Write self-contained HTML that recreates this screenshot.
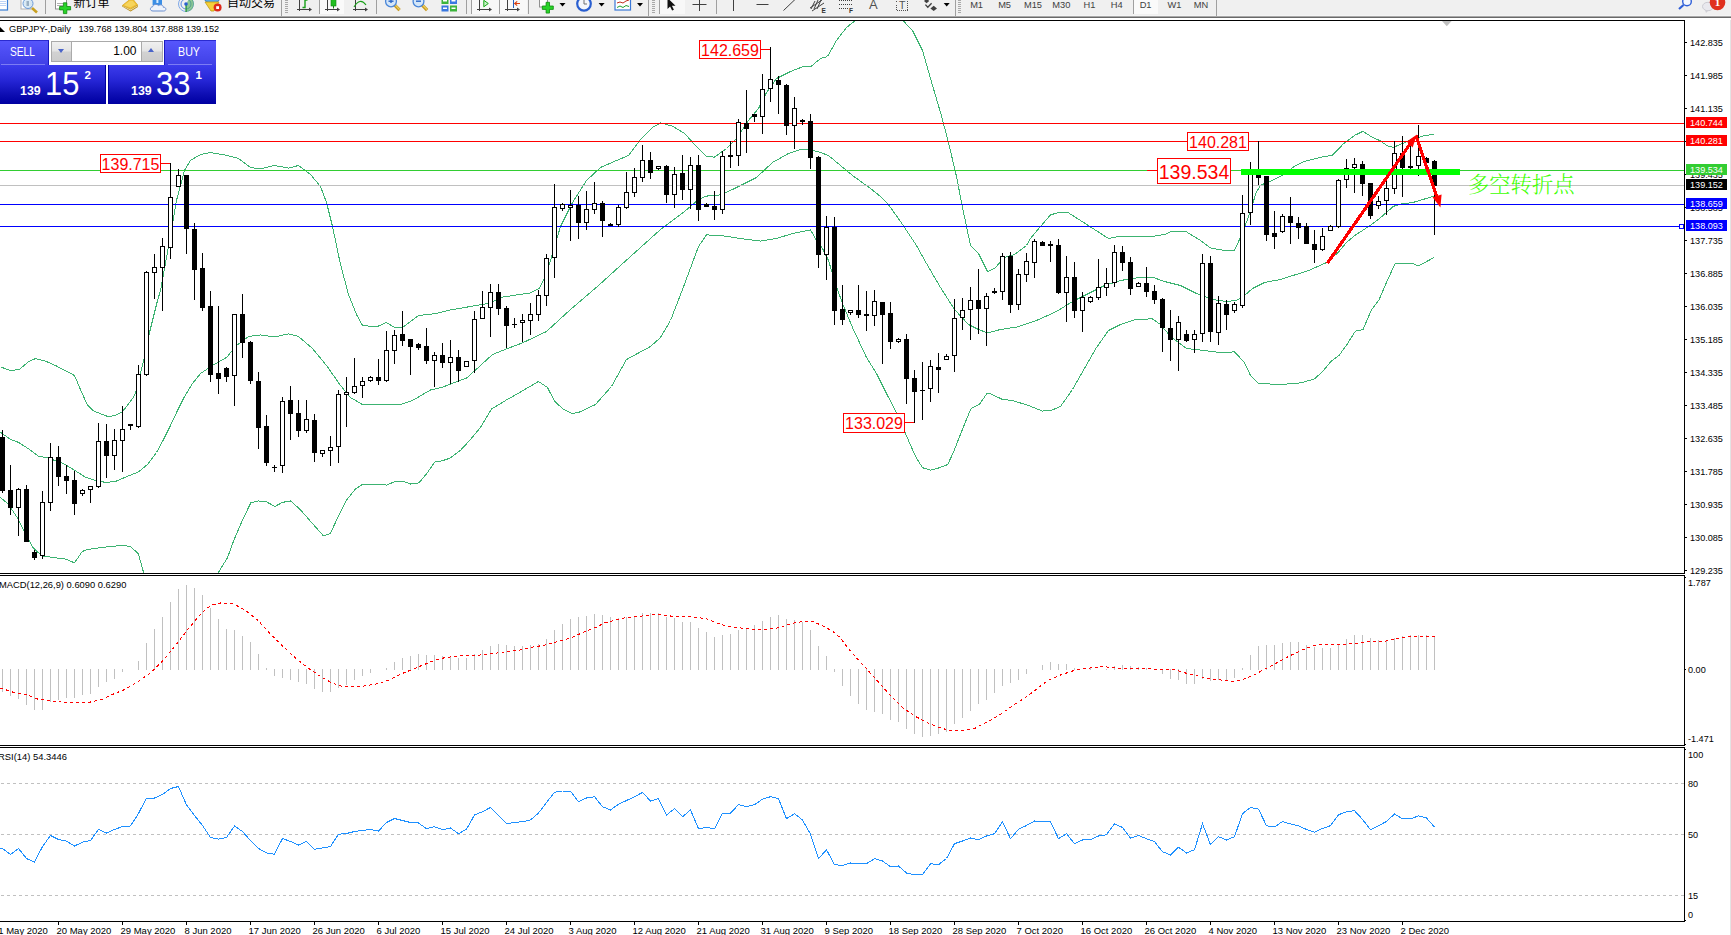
<!DOCTYPE html>
<html><head><meta charset="utf-8"><title>GBPJPY Daily</title><style>
html,body{margin:0;padding:0;background:#fff;}
body{width:1731px;height:935px;position:relative;overflow:hidden;font-family:"Liberation Sans","Noto Sans CJK SC",sans-serif;}
#panel{position:absolute;left:0;top:40px;width:216px;height:64px;color:#fff;}
#panel div{position:absolute;box-sizing:border-box;}
.btn{background:linear-gradient(#5656fc,#4040e6);height:25px;top:0;font-size:12.3px;line-height:25px;}
.sx{position:absolute;transform-origin:left center;white-space:nowrap;}
.big{top:25px;height:39px;background:linear-gradient(#3c3cec 0%,#2626d6 40%,#0c0cb0 80%,#0000a4 100%);}
.sm{font-weight:bold;font-size:12.5px;line-height:12.5px;top:45.4px;transform:scaleX(0.99);}
.lg{font-size:33.6px;line-height:33.6px;top:26.7px;transform:scaleX(0.92);}
.sup{font-weight:bold;font-size:11.5px;line-height:12px;}
</style></head><body>
<svg width="1731" height="935" viewBox="0 0 1731 935" style="position:absolute;left:0;top:0" font-family="'Liberation Sans', sans-serif">
<defs><clipPath id="cm"><rect x="0" y="21" width="1684" height="552"/></clipPath></defs>
<g clip-path="url(#cm)" fill="none" stroke="#3CB371" stroke-width="1" shape-rendering="crispEdges">
<polyline points="0.5,366.9 10.5,370.5 19.5,369.5 28.1,361.9 35.5,358.5 45.5,361.1 55.5,365.5 74.5,375.5 80.9,390.5 87.2,404.5 93.5,410.9 101.0,413.9 108.5,416.8 116.1,415.1 122.2,411.7 126.1,407.1 133.5,397.0 137.5,388.2 141.2,370.5 144.5,357.5 149.5,332.5 157.5,300.5 160.5,290.5 168.5,246.5 176.5,200.5 184.5,170.5 190.5,160.5 200.5,154.5 210.5,152.5 224.5,154.9 238.5,158.5 250.5,167.5 260.5,168.9 274.5,165.5 288.5,168.1 298.5,165.5 310.5,174.5 320.5,186.5 326.5,202.5 332.5,226.5 340.5,264.5 348.5,294.5 356.5,314.5 362.5,325.5 376.5,326.9 386.5,322.5 394.5,327.5 402.5,327.5 418.5,315.5 436.5,313.5 450.5,309.9 470.5,306.5 488.5,303.5 502.5,297.1 530.5,292.9 539.5,288.1 544.5,278.5 550.5,260.5 560.5,226.5 572.5,202.5 586.5,180.5 600.5,167.5 616.5,160.5 628.5,155.5 640.5,139.5 652.5,127.5 660.5,122.9 672.5,126.1 684.5,133.5 696.5,146.5 706.5,156.5 714.5,157.1 726.5,148.5 736.5,138.5 748.5,120.5 758.5,108.5 766.5,92.5 776.5,78.5 790.5,71.5 802.5,66.9 810.5,66.9 820.5,58.5 827.5,56.5 836.5,40.5 846.5,27.5 854.5,21.1 858.5,16.5"/>
<polyline points="900.5,16.5 903.5,21.1 912.5,30.5 922.5,50.5 930.5,78.5 940.5,112.5 948.5,142.5 956.5,176.5 962.5,207.5 970.5,245.5 978.5,253.5 987.5,271.5 994.5,268.5 1004.5,257.5 1014.5,254.5 1026.5,245.5 1030.5,238.5 1040.5,226.5 1050.5,214.9 1058.5,212.5 1068.5,212.9 1080.5,220.5 1094.5,229.5 1108.5,238.5 1120.5,236.1 1136.5,236.9 1152.5,236.5 1164.5,234.5 1170.5,231.9 1186.5,231.9 1200.5,240.5 1210.5,247.9 1226.5,250.9 1234.5,250.5 1241.5,235.2 1249.5,214.0 1256.1,192.9 1260.5,185.2 1270.5,181.3 1282.1,175.5 1293.5,166.9 1305.2,161.1 1320.5,157.3 1332.1,155.3 1343.5,143.8 1355.2,135.1 1362.9,131.3 1370.5,136.1 1380.2,140.9 1387.9,146.1 1393.5,147.3 1403.3,143.2 1412.9,139.0 1426.5,135.1 1434.1,134.8"/>
<polyline points="0.5,432.2 10.5,439.5 18.1,442.2 28.1,448.5 38.2,456.1 48.2,458.1 63.3,463.5 75.9,471.1 85.9,477.5 96.0,480.5 106.0,482.5 116.1,481.2 126.1,476.9 138.5,471.9 147.5,464.5 156.5,452.5 163.5,439.5 170.5,425.5 177.5,410.5 184.5,396.5 192.5,383.5 200.5,373.5 212.5,365.5 226.5,357.5 236.5,345.5 248.5,336.5 260.5,334.9 274.5,336.9 288.5,333.9 298.5,336.5 312.5,348.5 326.5,365.5 340.5,385.5 350.5,397.5 362.5,404.5 380.5,404.1 400.5,404.5 412.5,400.5 430.5,390.0 442.5,387.1 466.5,378.1 480.5,365.5 492.5,354.5 506.5,348.9 522.5,342.9 546.5,331.5 570.5,309.5 598.5,285.5 630.5,256.5 660.5,229.5 684.5,211.5 698.5,199.5 706.5,196.1 720.5,194.9 732.5,189.5 756.5,177.5 772.5,162.5 788.5,153.5 800.5,149.5 808.5,149.1 820.5,152.5 828.5,155.5 840.5,165.5 852.5,175.5 870.5,188.5 880.5,196.5 886.5,202.5 890.5,207.5 900.5,221.5 908.5,233.5 916.5,245.5 926.5,263.5 940.5,287.5 954.5,309.5 968.5,324.5 978.5,329.5 987.5,332.9 1000.5,329.5 1016.5,327.1 1036.5,320.5 1056.5,311.5 1072.5,301.5 1088.5,293.5 1104.5,285.5 1120.5,280.5 1136.5,277.9 1154.5,277.9 1164.5,281.5 1180.5,285.5 1196.5,293.5 1212.5,299.5 1226.5,301.5 1236.5,300.5 1244.5,295.5 1252.5,288.5 1264.5,282.5 1280.5,279.5 1300.5,273.1 1310.8,269.6 1326.2,262.7 1338.1,252.5 1346.5,242.5 1355.2,235.2 1368.7,226.5 1380.2,217.9 1393.5,206.3 1401.5,204.0 1412.9,202.5 1434.1,196.1"/>
<polyline points="0.5,497.5 8.0,503.8 18.1,518.9 25.5,534.0 33.2,547.8 42.0,556.1 50.5,557.1 65.8,559.1 74.5,562.9 82.2,551.5 87.2,549.5 106.0,547.0 123.5,545.3 131.2,547.0 138.5,554.1 144.0,574.0"/>
<polyline points="217.8,573.5 227.5,557.7 233.5,541.1 242.5,520.1 250.8,502.8 258.3,500.9 266.5,501.8 274.8,506.5 282.4,502.4 290.5,500.9 299.5,508.8 311.5,522.4 323.5,535.9 330.5,533.5 337.2,518.5 346.2,500.5 355.2,489.3 362.7,484.1 382.2,484.1 386.7,485.1 394.3,481.8 404.8,481.8 410.8,484.1 419.0,482.9 427.3,472.8 434.8,462.0 442.3,460.8 449.8,458.2 460.5,450.3 470.5,439.5 480.5,427.5 491.5,409.1 505.5,400.5 520.5,392.0 538.5,381.5 547.5,387.5 554.5,401.1 563.5,409.5 572.5,413.5 578.5,412.5 595.5,404.5 611.5,386.5 626.5,359.5 650.5,346.5 660.5,337.5 670.5,320.5 682.5,289.5 698.5,246.5 706.5,234.9 720.5,235.5 740.5,238.5 760.5,241.1 776.5,238.5 792.5,233.5 810.5,229.9 816.5,240.5 822.5,248.5 828.5,260.5 836.5,286.5 842.5,303.5 852.5,327.5 866.5,357.5 876.5,373.5 886.5,393.5 896.3,412.5 905.2,432.9 910.8,445.7 916.1,457.5 922.5,467.7 930.5,470.1 939.6,467.7 947.7,464.5 953.5,452.2 961.0,432.9 967.5,416.9 971.2,408.3 979.2,404.5 986.7,393.9 991.0,393.9 1002.5,399.5 1012.5,400.5 1028.5,405.5 1042.5,411.1 1052.5,409.9 1060.5,406.5 1072.5,389.5 1084.5,368.5 1096.5,347.5 1108.5,330.5 1120.5,324.5 1136.5,319.3 1152.5,318.9 1160.5,324.5 1170.5,336.5 1186.5,348.5 1200.5,350.1 1220.5,352.5 1234.5,351.9 1244.5,362.5 1250.5,375.5 1258.5,383.5 1280.5,384.5 1300.5,382.9 1314.2,379.1 1322.7,371.4 1331.3,361.1 1339.0,355.5 1346.7,344.9 1355.3,331.2 1363.0,329.5 1371.5,309.8 1379.2,299.5 1386.1,283.3 1395.1,263.6 1412.6,263.6 1418.5,265.8 1434.0,257.6"/>
</g>
<rect x="0" y="123" width="1684" height="1" fill="#ff0000"/>
<rect x="0" y="141" width="1684" height="1" fill="#ff0000"/>
<rect x="0" y="170" width="1684" height="1" fill="#32cd32"/>
<rect x="0" y="185" width="1684" height="1" fill="#c0c0c0"/>
<rect x="0" y="204" width="1684" height="1" fill="#0000ff"/>
<rect x="0" y="226" width="1684" height="1" fill="#0000ff"/>
<g shape-rendering="crispEdges" clip-path="url(#cm)">
<rect x="2" y="430" width="1" height="63" fill="#000"/>
<rect x="0" y="437" width="5" height="54" fill="#000"/>
<rect x="10" y="465" width="1" height="50" fill="#000"/>
<rect x="8" y="490" width="5" height="18" fill="#000"/>
<rect x="18" y="488" width="1" height="48" fill="#000"/>
<rect x="16" y="489" width="5" height="19" fill="#000"/>
<rect x="17" y="490" width="3" height="17" fill="#fff"/>
<rect x="26" y="485" width="1" height="57" fill="#000"/>
<rect x="24" y="489" width="5" height="53" fill="#000"/>
<rect x="34" y="550" width="1" height="10" fill="#000"/>
<rect x="32" y="552" width="5" height="6" fill="#000"/>
<rect x="42" y="491" width="1" height="68" fill="#000"/>
<rect x="40" y="502" width="5" height="54" fill="#000"/>
<rect x="41" y="503" width="3" height="52" fill="#fff"/>
<rect x="50" y="443" width="1" height="68" fill="#000"/>
<rect x="48" y="457" width="5" height="46" fill="#000"/>
<rect x="49" y="458" width="3" height="44" fill="#fff"/>
<rect x="58" y="446" width="1" height="40" fill="#000"/>
<rect x="56" y="457" width="5" height="20" fill="#000"/>
<rect x="66" y="465" width="1" height="29" fill="#000"/>
<rect x="64" y="476" width="5" height="5" fill="#000"/>
<rect x="74" y="471" width="1" height="44" fill="#000"/>
<rect x="72" y="480" width="5" height="24" fill="#000"/>
<rect x="82" y="489" width="1" height="7" fill="#000"/>
<rect x="80" y="490" width="5" height="4" fill="#000"/>
<rect x="81" y="491" width="3" height="2" fill="#fff"/>
<rect x="90" y="486" width="1" height="17" fill="#000"/>
<rect x="88" y="486" width="5" height="4" fill="#000"/>
<rect x="89" y="487" width="3" height="2" fill="#fff"/>
<rect x="98" y="423" width="1" height="65" fill="#000"/>
<rect x="96" y="441" width="5" height="46" fill="#000"/>
<rect x="97" y="442" width="3" height="44" fill="#fff"/>
<rect x="106" y="424" width="1" height="54" fill="#000"/>
<rect x="104" y="441" width="5" height="15" fill="#000"/>
<rect x="114" y="429" width="1" height="41" fill="#000"/>
<rect x="112" y="440" width="5" height="16" fill="#000"/>
<rect x="113" y="441" width="3" height="14" fill="#fff"/>
<rect x="122" y="406" width="1" height="66" fill="#000"/>
<rect x="120" y="429" width="5" height="12" fill="#000"/>
<rect x="121" y="430" width="3" height="10" fill="#fff"/>
<rect x="130" y="424" width="1" height="6" fill="#000"/>
<rect x="128" y="424" width="5" height="2" fill="#000"/>
<rect x="138" y="365" width="1" height="63" fill="#000"/>
<rect x="136" y="374" width="5" height="53" fill="#000"/>
<rect x="137" y="375" width="3" height="51" fill="#fff"/>
<rect x="146" y="271" width="1" height="105" fill="#000"/>
<rect x="144" y="272" width="5" height="103" fill="#000"/>
<rect x="145" y="273" width="3" height="101" fill="#fff"/>
<rect x="154" y="254" width="1" height="45" fill="#000"/>
<rect x="152" y="267" width="5" height="6" fill="#000"/>
<rect x="153" y="268" width="3" height="4" fill="#fff"/>
<rect x="162" y="238" width="1" height="73" fill="#000"/>
<rect x="160" y="246" width="5" height="22" fill="#000"/>
<rect x="161" y="247" width="3" height="20" fill="#fff"/>
<rect x="170" y="163" width="1" height="96" fill="#000"/>
<rect x="168" y="197" width="5" height="51" fill="#000"/>
<rect x="169" y="198" width="3" height="49" fill="#fff"/>
<rect x="178" y="169" width="1" height="18" fill="#000"/>
<rect x="176" y="175" width="5" height="12" fill="#000"/>
<rect x="177" y="176" width="3" height="10" fill="#fff"/>
<rect x="186" y="175" width="1" height="79" fill="#000"/>
<rect x="184" y="175" width="5" height="54" fill="#000"/>
<rect x="194" y="223" width="1" height="77" fill="#000"/>
<rect x="192" y="229" width="5" height="41" fill="#000"/>
<rect x="202" y="253" width="1" height="58" fill="#000"/>
<rect x="200" y="268" width="5" height="40" fill="#000"/>
<rect x="210" y="291" width="1" height="91" fill="#000"/>
<rect x="208" y="306" width="5" height="69" fill="#000"/>
<rect x="218" y="306" width="1" height="88" fill="#000"/>
<rect x="216" y="373" width="5" height="6" fill="#000"/>
<rect x="226" y="367" width="1" height="15" fill="#000"/>
<rect x="224" y="368" width="5" height="9" fill="#000"/>
<rect x="234" y="314" width="1" height="92" fill="#000"/>
<rect x="232" y="314" width="5" height="62" fill="#000"/>
<rect x="233" y="315" width="3" height="60" fill="#fff"/>
<rect x="242" y="294" width="1" height="64" fill="#000"/>
<rect x="240" y="314" width="5" height="29" fill="#000"/>
<rect x="250" y="341" width="1" height="43" fill="#000"/>
<rect x="248" y="342" width="5" height="39" fill="#000"/>
<rect x="258" y="372" width="1" height="77" fill="#000"/>
<rect x="256" y="381" width="5" height="47" fill="#000"/>
<rect x="266" y="415" width="1" height="51" fill="#000"/>
<rect x="264" y="426" width="5" height="37" fill="#000"/>
<rect x="274" y="465" width="1" height="7" fill="#000"/>
<rect x="272" y="467" width="5" height="1" fill="#000"/>
<rect x="282" y="397" width="1" height="76" fill="#000"/>
<rect x="280" y="401" width="5" height="65" fill="#000"/>
<rect x="281" y="402" width="3" height="63" fill="#fff"/>
<rect x="290" y="386" width="1" height="54" fill="#000"/>
<rect x="288" y="400" width="5" height="14" fill="#000"/>
<rect x="298" y="400" width="1" height="37" fill="#000"/>
<rect x="296" y="413" width="5" height="18" fill="#000"/>
<rect x="306" y="400" width="1" height="33" fill="#000"/>
<rect x="304" y="419" width="5" height="12" fill="#000"/>
<rect x="305" y="420" width="3" height="10" fill="#fff"/>
<rect x="314" y="414" width="1" height="48" fill="#000"/>
<rect x="312" y="420" width="5" height="33" fill="#000"/>
<rect x="322" y="450" width="1" height="7" fill="#000"/>
<rect x="320" y="450" width="5" height="4" fill="#000"/>
<rect x="321" y="451" width="3" height="2" fill="#fff"/>
<rect x="330" y="436" width="1" height="30" fill="#000"/>
<rect x="328" y="447" width="5" height="4" fill="#000"/>
<rect x="329" y="448" width="3" height="2" fill="#fff"/>
<rect x="338" y="390" width="1" height="73" fill="#000"/>
<rect x="336" y="394" width="5" height="53" fill="#000"/>
<rect x="337" y="395" width="3" height="51" fill="#fff"/>
<rect x="346" y="377" width="1" height="50" fill="#000"/>
<rect x="344" y="392" width="5" height="3" fill="#000"/>
<rect x="345" y="393" width="3" height="1" fill="#fff"/>
<rect x="354" y="358" width="1" height="36" fill="#000"/>
<rect x="352" y="386" width="5" height="7" fill="#000"/>
<rect x="353" y="387" width="3" height="5" fill="#fff"/>
<rect x="362" y="377" width="1" height="21" fill="#000"/>
<rect x="360" y="381" width="5" height="5" fill="#000"/>
<rect x="361" y="382" width="3" height="3" fill="#fff"/>
<rect x="370" y="376" width="1" height="6" fill="#000"/>
<rect x="368" y="377" width="5" height="4" fill="#000"/>
<rect x="369" y="378" width="3" height="2" fill="#fff"/>
<rect x="378" y="359" width="1" height="26" fill="#000"/>
<rect x="376" y="377" width="5" height="4" fill="#000"/>
<rect x="386" y="331" width="1" height="51" fill="#000"/>
<rect x="384" y="350" width="5" height="31" fill="#000"/>
<rect x="385" y="351" width="3" height="29" fill="#fff"/>
<rect x="394" y="330" width="1" height="34" fill="#000"/>
<rect x="392" y="335" width="5" height="16" fill="#000"/>
<rect x="393" y="336" width="3" height="14" fill="#fff"/>
<rect x="402" y="311" width="1" height="35" fill="#000"/>
<rect x="400" y="334" width="5" height="7" fill="#000"/>
<rect x="410" y="339" width="1" height="36" fill="#000"/>
<rect x="408" y="339" width="5" height="8" fill="#000"/>
<rect x="418" y="343" width="1" height="7" fill="#000"/>
<rect x="416" y="344" width="5" height="4" fill="#000"/>
<rect x="426" y="328" width="1" height="36" fill="#000"/>
<rect x="424" y="346" width="5" height="15" fill="#000"/>
<rect x="434" y="352" width="1" height="35" fill="#000"/>
<rect x="432" y="355" width="5" height="6" fill="#000"/>
<rect x="433" y="356" width="3" height="4" fill="#fff"/>
<rect x="442" y="343" width="1" height="25" fill="#000"/>
<rect x="440" y="355" width="5" height="8" fill="#000"/>
<rect x="450" y="340" width="1" height="44" fill="#000"/>
<rect x="448" y="357" width="5" height="6" fill="#000"/>
<rect x="449" y="358" width="3" height="4" fill="#fff"/>
<rect x="458" y="350" width="1" height="32" fill="#000"/>
<rect x="456" y="357" width="5" height="14" fill="#000"/>
<rect x="466" y="361" width="1" height="6" fill="#000"/>
<rect x="464" y="361" width="5" height="6" fill="#000"/>
<rect x="465" y="362" width="3" height="4" fill="#fff"/>
<rect x="474" y="311" width="1" height="62" fill="#000"/>
<rect x="472" y="319" width="5" height="42" fill="#000"/>
<rect x="473" y="320" width="3" height="40" fill="#fff"/>
<rect x="482" y="291" width="1" height="28" fill="#000"/>
<rect x="480" y="307" width="5" height="12" fill="#000"/>
<rect x="481" y="308" width="3" height="10" fill="#fff"/>
<rect x="490" y="284" width="1" height="53" fill="#000"/>
<rect x="488" y="292" width="5" height="16" fill="#000"/>
<rect x="489" y="293" width="3" height="14" fill="#fff"/>
<rect x="498" y="284" width="1" height="31" fill="#000"/>
<rect x="496" y="292" width="5" height="17" fill="#000"/>
<rect x="506" y="306" width="1" height="42" fill="#000"/>
<rect x="504" y="308" width="5" height="18" fill="#000"/>
<rect x="514" y="318" width="1" height="10" fill="#000"/>
<rect x="512" y="324" width="5" height="1" fill="#000"/>
<rect x="522" y="314" width="1" height="28" fill="#000"/>
<rect x="520" y="320" width="5" height="3" fill="#000"/>
<rect x="521" y="321" width="3" height="1" fill="#fff"/>
<rect x="530" y="303" width="1" height="32" fill="#000"/>
<rect x="528" y="314" width="5" height="7" fill="#000"/>
<rect x="529" y="315" width="3" height="5" fill="#fff"/>
<rect x="538" y="290" width="1" height="31" fill="#000"/>
<rect x="536" y="295" width="5" height="20" fill="#000"/>
<rect x="537" y="296" width="3" height="18" fill="#fff"/>
<rect x="546" y="254" width="1" height="52" fill="#000"/>
<rect x="544" y="258" width="5" height="38" fill="#000"/>
<rect x="545" y="259" width="3" height="36" fill="#fff"/>
<rect x="554" y="184" width="1" height="94" fill="#000"/>
<rect x="552" y="207" width="5" height="51" fill="#000"/>
<rect x="553" y="208" width="3" height="49" fill="#fff"/>
<rect x="562" y="203" width="1" height="8" fill="#000"/>
<rect x="560" y="204" width="5" height="5" fill="#000"/>
<rect x="561" y="205" width="3" height="3" fill="#fff"/>
<rect x="570" y="190" width="1" height="51" fill="#000"/>
<rect x="568" y="205" width="5" height="3" fill="#000"/>
<rect x="569" y="206" width="3" height="1" fill="#fff"/>
<rect x="578" y="196" width="1" height="43" fill="#000"/>
<rect x="576" y="205" width="5" height="18" fill="#000"/>
<rect x="586" y="191" width="1" height="39" fill="#000"/>
<rect x="584" y="209" width="5" height="14" fill="#000"/>
<rect x="585" y="210" width="3" height="12" fill="#fff"/>
<rect x="594" y="182" width="1" height="32" fill="#000"/>
<rect x="592" y="203" width="5" height="7" fill="#000"/>
<rect x="593" y="204" width="3" height="5" fill="#fff"/>
<rect x="602" y="201" width="1" height="36" fill="#000"/>
<rect x="600" y="203" width="5" height="18" fill="#000"/>
<rect x="610" y="223" width="1" height="3" fill="#000"/>
<rect x="608" y="224" width="5" height="2" fill="#000"/>
<rect x="618" y="205" width="1" height="22" fill="#000"/>
<rect x="616" y="207" width="5" height="18" fill="#000"/>
<rect x="617" y="208" width="3" height="16" fill="#fff"/>
<rect x="626" y="172" width="1" height="37" fill="#000"/>
<rect x="624" y="192" width="5" height="16" fill="#000"/>
<rect x="625" y="193" width="3" height="14" fill="#fff"/>
<rect x="634" y="168" width="1" height="29" fill="#000"/>
<rect x="632" y="177" width="5" height="16" fill="#000"/>
<rect x="633" y="178" width="3" height="14" fill="#fff"/>
<rect x="642" y="145" width="1" height="37" fill="#000"/>
<rect x="640" y="160" width="5" height="18" fill="#000"/>
<rect x="641" y="161" width="3" height="16" fill="#fff"/>
<rect x="650" y="152" width="1" height="27" fill="#000"/>
<rect x="648" y="160" width="5" height="13" fill="#000"/>
<rect x="658" y="166" width="1" height="4" fill="#000"/>
<rect x="656" y="166" width="5" height="3" fill="#000"/>
<rect x="657" y="167" width="3" height="1" fill="#fff"/>
<rect x="666" y="165" width="1" height="38" fill="#000"/>
<rect x="664" y="166" width="5" height="29" fill="#000"/>
<rect x="674" y="167" width="1" height="41" fill="#000"/>
<rect x="672" y="174" width="5" height="21" fill="#000"/>
<rect x="673" y="175" width="3" height="19" fill="#fff"/>
<rect x="682" y="155" width="1" height="45" fill="#000"/>
<rect x="680" y="173" width="5" height="17" fill="#000"/>
<rect x="690" y="157" width="1" height="52" fill="#000"/>
<rect x="688" y="165" width="5" height="25" fill="#000"/>
<rect x="689" y="166" width="3" height="23" fill="#fff"/>
<rect x="698" y="155" width="1" height="66" fill="#000"/>
<rect x="696" y="165" width="5" height="45" fill="#000"/>
<rect x="706" y="203" width="1" height="4" fill="#000"/>
<rect x="704" y="204" width="5" height="3" fill="#000"/>
<rect x="714" y="191" width="1" height="29" fill="#000"/>
<rect x="712" y="206" width="5" height="4" fill="#000"/>
<rect x="722" y="151" width="1" height="63" fill="#000"/>
<rect x="720" y="156" width="5" height="54" fill="#000"/>
<rect x="721" y="157" width="3" height="52" fill="#fff"/>
<rect x="730" y="141" width="1" height="27" fill="#000"/>
<rect x="728" y="155" width="5" height="2" fill="#000"/>
<rect x="738" y="119" width="1" height="47" fill="#000"/>
<rect x="736" y="122" width="5" height="34" fill="#000"/>
<rect x="737" y="123" width="3" height="32" fill="#fff"/>
<rect x="746" y="90" width="1" height="63" fill="#000"/>
<rect x="744" y="123" width="5" height="6" fill="#000"/>
<rect x="754" y="114" width="1" height="8" fill="#000"/>
<rect x="752" y="114" width="5" height="3" fill="#000"/>
<rect x="762" y="74" width="1" height="60" fill="#000"/>
<rect x="760" y="89" width="5" height="28" fill="#000"/>
<rect x="761" y="90" width="3" height="26" fill="#fff"/>
<rect x="770" y="47" width="1" height="55" fill="#000"/>
<rect x="768" y="79" width="5" height="10" fill="#000"/>
<rect x="769" y="80" width="3" height="8" fill="#fff"/>
<rect x="778" y="76" width="1" height="38" fill="#000"/>
<rect x="776" y="80" width="5" height="5" fill="#000"/>
<rect x="786" y="84" width="1" height="51" fill="#000"/>
<rect x="784" y="85" width="5" height="41" fill="#000"/>
<rect x="794" y="97" width="1" height="52" fill="#000"/>
<rect x="792" y="108" width="5" height="18" fill="#000"/>
<rect x="793" y="109" width="3" height="16" fill="#fff"/>
<rect x="802" y="119" width="1" height="6" fill="#000"/>
<rect x="800" y="120" width="5" height="2" fill="#000"/>
<rect x="810" y="114" width="1" height="55" fill="#000"/>
<rect x="808" y="121" width="5" height="37" fill="#000"/>
<rect x="818" y="156" width="1" height="112" fill="#000"/>
<rect x="816" y="157" width="5" height="98" fill="#000"/>
<rect x="826" y="216" width="1" height="64" fill="#000"/>
<rect x="824" y="227" width="5" height="28" fill="#000"/>
<rect x="825" y="228" width="3" height="26" fill="#fff"/>
<rect x="834" y="217" width="1" height="108" fill="#000"/>
<rect x="832" y="227" width="5" height="84" fill="#000"/>
<rect x="842" y="285" width="1" height="40" fill="#000"/>
<rect x="840" y="309" width="5" height="11" fill="#000"/>
<rect x="850" y="310" width="1" height="5" fill="#000"/>
<rect x="848" y="310" width="5" height="3" fill="#000"/>
<rect x="849" y="311" width="3" height="1" fill="#fff"/>
<rect x="858" y="285" width="1" height="33" fill="#000"/>
<rect x="856" y="310" width="5" height="5" fill="#000"/>
<rect x="866" y="291" width="1" height="40" fill="#000"/>
<rect x="864" y="314" width="5" height="2" fill="#000"/>
<rect x="874" y="290" width="1" height="36" fill="#000"/>
<rect x="872" y="301" width="5" height="15" fill="#000"/>
<rect x="873" y="302" width="3" height="13" fill="#fff"/>
<rect x="882" y="302" width="1" height="62" fill="#000"/>
<rect x="880" y="302" width="5" height="13" fill="#000"/>
<rect x="890" y="302" width="1" height="47" fill="#000"/>
<rect x="888" y="313" width="5" height="29" fill="#000"/>
<rect x="898" y="338" width="1" height="5" fill="#000"/>
<rect x="896" y="339" width="5" height="3" fill="#000"/>
<rect x="897" y="340" width="3" height="1" fill="#fff"/>
<rect x="906" y="334" width="1" height="70" fill="#000"/>
<rect x="904" y="339" width="5" height="40" fill="#000"/>
<rect x="914" y="370" width="1" height="53" fill="#000"/>
<rect x="912" y="378" width="5" height="14" fill="#000"/>
<rect x="922" y="362" width="1" height="58" fill="#000"/>
<rect x="920" y="390" width="5" height="1" fill="#000"/>
<rect x="930" y="360" width="1" height="42" fill="#000"/>
<rect x="928" y="366" width="5" height="23" fill="#000"/>
<rect x="929" y="367" width="3" height="21" fill="#fff"/>
<rect x="938" y="353" width="1" height="40" fill="#000"/>
<rect x="936" y="367" width="5" height="3" fill="#000"/>
<rect x="946" y="354" width="1" height="6" fill="#000"/>
<rect x="944" y="356" width="5" height="4" fill="#000"/>
<rect x="945" y="357" width="3" height="2" fill="#fff"/>
<rect x="954" y="299" width="1" height="73" fill="#000"/>
<rect x="952" y="318" width="5" height="38" fill="#000"/>
<rect x="953" y="319" width="3" height="36" fill="#fff"/>
<rect x="962" y="298" width="1" height="32" fill="#000"/>
<rect x="960" y="310" width="5" height="8" fill="#000"/>
<rect x="961" y="311" width="3" height="6" fill="#fff"/>
<rect x="970" y="287" width="1" height="53" fill="#000"/>
<rect x="968" y="300" width="5" height="10" fill="#000"/>
<rect x="969" y="301" width="3" height="8" fill="#fff"/>
<rect x="978" y="269" width="1" height="65" fill="#000"/>
<rect x="976" y="300" width="5" height="9" fill="#000"/>
<rect x="986" y="293" width="1" height="53" fill="#000"/>
<rect x="984" y="296" width="5" height="13" fill="#000"/>
<rect x="985" y="297" width="3" height="11" fill="#fff"/>
<rect x="994" y="288" width="1" height="6" fill="#000"/>
<rect x="992" y="291" width="5" height="2" fill="#000"/>
<rect x="1002" y="253" width="1" height="47" fill="#000"/>
<rect x="1000" y="256" width="5" height="36" fill="#000"/>
<rect x="1001" y="257" width="3" height="34" fill="#fff"/>
<rect x="1010" y="252" width="1" height="61" fill="#000"/>
<rect x="1008" y="256" width="5" height="49" fill="#000"/>
<rect x="1018" y="269" width="1" height="41" fill="#000"/>
<rect x="1016" y="274" width="5" height="31" fill="#000"/>
<rect x="1017" y="275" width="3" height="29" fill="#fff"/>
<rect x="1026" y="253" width="1" height="29" fill="#000"/>
<rect x="1024" y="261" width="5" height="14" fill="#000"/>
<rect x="1025" y="262" width="3" height="12" fill="#fff"/>
<rect x="1034" y="239" width="1" height="39" fill="#000"/>
<rect x="1032" y="241" width="5" height="22" fill="#000"/>
<rect x="1033" y="242" width="3" height="20" fill="#fff"/>
<rect x="1042" y="241" width="1" height="5" fill="#000"/>
<rect x="1040" y="242" width="5" height="4" fill="#000"/>
<rect x="1050" y="241" width="1" height="21" fill="#000"/>
<rect x="1048" y="244" width="5" height="2" fill="#000"/>
<rect x="1058" y="239" width="1" height="55" fill="#000"/>
<rect x="1056" y="245" width="5" height="48" fill="#000"/>
<rect x="1066" y="256" width="1" height="66" fill="#000"/>
<rect x="1064" y="277" width="5" height="16" fill="#000"/>
<rect x="1065" y="278" width="3" height="14" fill="#fff"/>
<rect x="1074" y="262" width="1" height="56" fill="#000"/>
<rect x="1072" y="277" width="5" height="34" fill="#000"/>
<rect x="1082" y="292" width="1" height="40" fill="#000"/>
<rect x="1080" y="297" width="5" height="14" fill="#000"/>
<rect x="1081" y="298" width="3" height="12" fill="#fff"/>
<rect x="1090" y="296" width="1" height="7" fill="#000"/>
<rect x="1088" y="297" width="5" height="5" fill="#000"/>
<rect x="1089" y="298" width="3" height="3" fill="#fff"/>
<rect x="1098" y="259" width="1" height="41" fill="#000"/>
<rect x="1096" y="287" width="5" height="11" fill="#000"/>
<rect x="1097" y="288" width="3" height="9" fill="#fff"/>
<rect x="1106" y="268" width="1" height="28" fill="#000"/>
<rect x="1104" y="283" width="5" height="5" fill="#000"/>
<rect x="1105" y="284" width="3" height="3" fill="#fff"/>
<rect x="1114" y="245" width="1" height="42" fill="#000"/>
<rect x="1112" y="252" width="5" height="31" fill="#000"/>
<rect x="1113" y="253" width="3" height="29" fill="#fff"/>
<rect x="1122" y="246" width="1" height="25" fill="#000"/>
<rect x="1120" y="252" width="5" height="11" fill="#000"/>
<rect x="1130" y="257" width="1" height="38" fill="#000"/>
<rect x="1128" y="262" width="5" height="27" fill="#000"/>
<rect x="1138" y="282" width="1" height="5" fill="#000"/>
<rect x="1136" y="283" width="5" height="4" fill="#000"/>
<rect x="1137" y="284" width="3" height="2" fill="#fff"/>
<rect x="1146" y="267" width="1" height="30" fill="#000"/>
<rect x="1144" y="283" width="5" height="9" fill="#000"/>
<rect x="1154" y="285" width="1" height="19" fill="#000"/>
<rect x="1152" y="291" width="5" height="9" fill="#000"/>
<rect x="1162" y="298" width="1" height="54" fill="#000"/>
<rect x="1160" y="299" width="5" height="29" fill="#000"/>
<rect x="1170" y="310" width="1" height="51" fill="#000"/>
<rect x="1168" y="328" width="5" height="12" fill="#000"/>
<rect x="1178" y="316" width="1" height="55" fill="#000"/>
<rect x="1176" y="322" width="5" height="18" fill="#000"/>
<rect x="1177" y="323" width="3" height="16" fill="#fff"/>
<rect x="1186" y="330" width="1" height="12" fill="#000"/>
<rect x="1184" y="334" width="5" height="7" fill="#000"/>
<rect x="1194" y="330" width="1" height="23" fill="#000"/>
<rect x="1192" y="334" width="5" height="6" fill="#000"/>
<rect x="1193" y="335" width="3" height="4" fill="#fff"/>
<rect x="1202" y="254" width="1" height="88" fill="#000"/>
<rect x="1200" y="263" width="5" height="71" fill="#000"/>
<rect x="1201" y="264" width="3" height="69" fill="#fff"/>
<rect x="1210" y="256" width="1" height="86" fill="#000"/>
<rect x="1208" y="263" width="5" height="69" fill="#000"/>
<rect x="1218" y="296" width="1" height="49" fill="#000"/>
<rect x="1216" y="303" width="5" height="30" fill="#000"/>
<rect x="1217" y="304" width="3" height="28" fill="#fff"/>
<rect x="1226" y="300" width="1" height="30" fill="#000"/>
<rect x="1224" y="304" width="5" height="11" fill="#000"/>
<rect x="1234" y="302" width="1" height="11" fill="#000"/>
<rect x="1232" y="304" width="5" height="7" fill="#000"/>
<rect x="1233" y="305" width="3" height="5" fill="#fff"/>
<rect x="1242" y="195" width="1" height="113" fill="#000"/>
<rect x="1240" y="213" width="5" height="93" fill="#000"/>
<rect x="1241" y="214" width="3" height="91" fill="#fff"/>
<rect x="1250" y="162" width="1" height="63" fill="#000"/>
<rect x="1248" y="174" width="5" height="39" fill="#000"/>
<rect x="1249" y="175" width="3" height="37" fill="#fff"/>
<rect x="1258" y="141" width="1" height="44" fill="#000"/>
<rect x="1256" y="175" width="5" height="3" fill="#000"/>
<rect x="1266" y="176" width="1" height="65" fill="#000"/>
<rect x="1264" y="176" width="5" height="59" fill="#000"/>
<rect x="1274" y="211" width="1" height="38" fill="#000"/>
<rect x="1272" y="233" width="5" height="4" fill="#000"/>
<rect x="1282" y="214" width="1" height="19" fill="#000"/>
<rect x="1280" y="216" width="5" height="16" fill="#000"/>
<rect x="1281" y="217" width="3" height="14" fill="#fff"/>
<rect x="1290" y="197" width="1" height="47" fill="#000"/>
<rect x="1288" y="216" width="5" height="7" fill="#000"/>
<rect x="1298" y="217" width="1" height="22" fill="#000"/>
<rect x="1296" y="223" width="5" height="5" fill="#000"/>
<rect x="1306" y="223" width="1" height="21" fill="#000"/>
<rect x="1304" y="226" width="5" height="18" fill="#000"/>
<rect x="1314" y="230" width="1" height="33" fill="#000"/>
<rect x="1312" y="244" width="5" height="6" fill="#000"/>
<rect x="1322" y="228" width="1" height="23" fill="#000"/>
<rect x="1320" y="236" width="5" height="14" fill="#000"/>
<rect x="1321" y="237" width="3" height="12" fill="#fff"/>
<rect x="1330" y="225" width="1" height="6" fill="#000"/>
<rect x="1328" y="226" width="5" height="5" fill="#000"/>
<rect x="1329" y="227" width="3" height="3" fill="#fff"/>
<rect x="1338" y="179" width="1" height="49" fill="#000"/>
<rect x="1336" y="180" width="5" height="47" fill="#000"/>
<rect x="1337" y="181" width="3" height="45" fill="#fff"/>
<rect x="1346" y="159" width="1" height="29" fill="#000"/>
<rect x="1344" y="168" width="5" height="12" fill="#000"/>
<rect x="1345" y="169" width="3" height="10" fill="#fff"/>
<rect x="1354" y="158" width="1" height="35" fill="#000"/>
<rect x="1352" y="164" width="5" height="4" fill="#000"/>
<rect x="1353" y="165" width="3" height="2" fill="#fff"/>
<rect x="1362" y="161" width="1" height="35" fill="#000"/>
<rect x="1360" y="164" width="5" height="20" fill="#000"/>
<rect x="1370" y="183" width="1" height="36" fill="#000"/>
<rect x="1368" y="183" width="5" height="33" fill="#000"/>
<rect x="1378" y="196" width="1" height="13" fill="#000"/>
<rect x="1376" y="201" width="5" height="5" fill="#000"/>
<rect x="1377" y="202" width="3" height="3" fill="#fff"/>
<rect x="1386" y="181" width="1" height="34" fill="#000"/>
<rect x="1384" y="188" width="5" height="13" fill="#000"/>
<rect x="1385" y="189" width="3" height="11" fill="#fff"/>
<rect x="1394" y="141" width="1" height="53" fill="#000"/>
<rect x="1392" y="153" width="5" height="36" fill="#000"/>
<rect x="1393" y="154" width="3" height="34" fill="#fff"/>
<rect x="1402" y="136" width="1" height="61" fill="#000"/>
<rect x="1400" y="153" width="5" height="15" fill="#000"/>
<rect x="1410" y="141" width="1" height="28" fill="#000"/>
<rect x="1408" y="166" width="5" height="2" fill="#000"/>
<rect x="1418" y="125" width="1" height="51" fill="#000"/>
<rect x="1416" y="156" width="5" height="10" fill="#000"/>
<rect x="1417" y="157" width="3" height="8" fill="#fff"/>
<rect x="1426" y="157" width="1" height="7" fill="#000"/>
<rect x="1424" y="158" width="5" height="5" fill="#000"/>
<rect x="1434" y="160" width="1" height="75" fill="#000"/>
<rect x="1432" y="161" width="5" height="25" fill="#000"/>
</g>
<rect x="1241" y="169" width="219" height="6" fill="#00ff00"/>
<g stroke="#ff0000" fill="#ff0000" stroke-linecap="butt">
<line x1="1327.3" y1="263.3" x2="1414.5" y2="137.5" stroke-width="3.2" shape-rendering="crispEdges"/>
<polygon points="1417,134.4 1406.8,141.6 1412.6,147.4" stroke="none"/>
<line x1="1416" y1="135.5" x2="1437.5" y2="199" stroke-width="3.2" shape-rendering="crispEdges"/>
<polygon points="1440.4,207.6 1432.6,197.2 1441.6,194.6" stroke="none"/>
</g>
<rect x="100.5" y="154.5" width="60" height="18" fill="#fff" stroke="#ff0000" stroke-width="1" shape-rendering="crispEdges"/>
<text x="130.5" y="169.8" font-size="16" fill="#ff0000" text-anchor="middle">139.715</text>
<rect x="161" y="163" width="9" height="1" fill="#ff0000"/>
<rect x="699.5" y="40.5" width="61" height="18" fill="#fff" stroke="#ff0000" stroke-width="1" shape-rendering="crispEdges"/>
<text x="730.0" y="55.8" font-size="16" fill="#ff0000" text-anchor="middle">142.659</text>
<rect x="761" y="49" width="9" height="1" fill="#ff0000"/>
<rect x="843.5" y="413.5" width="61" height="19" fill="#fff" stroke="#ff0000" stroke-width="1" shape-rendering="crispEdges"/>
<text x="874.0" y="429.3" font-size="16" fill="#ff0000" text-anchor="middle">133.029</text>
<rect x="905" y="422" width="9" height="1" fill="#ff0000"/>
<rect x="1187.5" y="132.5" width="61" height="18" fill="#fff" stroke="#ff0000" stroke-width="1" shape-rendering="crispEdges"/>
<text x="1218.0" y="147.8" font-size="16" fill="#ff0000" text-anchor="middle">140.281</text>
<rect x="1157.5" y="158.5" width="73" height="25" fill="#fff" stroke="#ff0000" stroke-width="1" shape-rendering="crispEdges"/>
<text x="1194.0" y="178.6" font-size="19.5" fill="#ff0000" text-anchor="middle">139.534</text>
<rect x="1147" y="170" width="10" height="1" fill="#ff0000"/>
<text x="1468" y="191.8" font-size="21.3" fill="#3dff00" font-family="'Liberation Serif', 'Noto Serif CJK SC', serif" font-weight="300">多空转折点</text>
<polygon points="0,27 0,32 5,32" fill="#000"/>
<text transform="translate(9,32.2) scale(0.945,1)" font-size="9.8" fill="#000">GBPJPY-,Daily</text>
<text transform="translate(78.4,32.2) scale(0.94,1)" font-size="9.8" fill="#000">139.768 139.804 137.888 139.152</text>
<polygon points="1442,21 1451.6,21 1446.8,26.2" fill="#c0c0c0"/>
<rect x="0" y="20" width="1685" height="1" fill="#000"/>
<rect x="1684" y="20" width="1" height="554" fill="#000"/>
<rect x="0" y="573" width="1685" height="1" fill="#000"/>
<rect x="0" y="575" width="1685" height="1" fill="#000"/>
<rect x="1684" y="575" width="1" height="171" fill="#000"/>
<rect x="0" y="745" width="1685" height="1" fill="#000"/>
<rect x="0" y="747" width="1685" height="1" fill="#000"/>
<rect x="1684" y="747" width="1" height="175" fill="#000"/>
<rect x="0" y="921" width="1685" height="1" fill="#000"/>
<rect x="1679.5" y="224.5" width="4" height="4" fill="#fff" stroke="#0000ff" stroke-width="1" shape-rendering="crispEdges"/>
<rect x="1685" y="42" width="2" height="1" fill="#000"/>
<text transform="translate(1690,46.0) scale(0.93,1)" font-size="9.8" fill="#000">142.835</text>
<rect x="1685" y="75" width="2" height="1" fill="#000"/>
<text transform="translate(1690,79.0) scale(0.93,1)" font-size="9.8" fill="#000">141.985</text>
<rect x="1685" y="108" width="2" height="1" fill="#000"/>
<text transform="translate(1690,112.0) scale(0.93,1)" font-size="9.8" fill="#000">141.135</text>
<rect x="1685" y="141" width="2" height="1" fill="#000"/>
<text transform="translate(1690,145.0) scale(0.93,1)" font-size="9.8" fill="#000">140.285</text>
<rect x="1685" y="174" width="2" height="1" fill="#000"/>
<text transform="translate(1690,178.0) scale(0.93,1)" font-size="9.8" fill="#000">139.435</text>
<rect x="1685" y="207" width="2" height="1" fill="#000"/>
<text transform="translate(1690,211.0) scale(0.93,1)" font-size="9.8" fill="#000">138.585</text>
<rect x="1685" y="240" width="2" height="1" fill="#000"/>
<text transform="translate(1690,244.0) scale(0.93,1)" font-size="9.8" fill="#000">137.735</text>
<rect x="1685" y="273" width="2" height="1" fill="#000"/>
<text transform="translate(1690,277.0) scale(0.93,1)" font-size="9.8" fill="#000">136.885</text>
<rect x="1685" y="306" width="2" height="1" fill="#000"/>
<text transform="translate(1690,310.0) scale(0.93,1)" font-size="9.8" fill="#000">136.035</text>
<rect x="1685" y="339" width="2" height="1" fill="#000"/>
<text transform="translate(1690,343.0) scale(0.93,1)" font-size="9.8" fill="#000">135.185</text>
<rect x="1685" y="372" width="2" height="1" fill="#000"/>
<text transform="translate(1690,376.0) scale(0.93,1)" font-size="9.8" fill="#000">134.335</text>
<rect x="1685" y="405" width="2" height="1" fill="#000"/>
<text transform="translate(1690,409.0) scale(0.93,1)" font-size="9.8" fill="#000">133.485</text>
<rect x="1685" y="438" width="2" height="1" fill="#000"/>
<text transform="translate(1690,442.0) scale(0.93,1)" font-size="9.8" fill="#000">132.635</text>
<rect x="1685" y="471" width="2" height="1" fill="#000"/>
<text transform="translate(1690,475.0) scale(0.93,1)" font-size="9.8" fill="#000">131.785</text>
<rect x="1685" y="504" width="2" height="1" fill="#000"/>
<text transform="translate(1690,508.0) scale(0.93,1)" font-size="9.8" fill="#000">130.935</text>
<rect x="1685" y="537" width="2" height="1" fill="#000"/>
<text transform="translate(1690,541.0) scale(0.93,1)" font-size="9.8" fill="#000">130.085</text>
<rect x="1685" y="570" width="2" height="1" fill="#000"/>
<text transform="translate(1690,574.0) scale(0.93,1)" font-size="9.8" fill="#000">129.235</text>
<rect x="1686" y="117" width="41" height="11" fill="#ff0000"/>
<text transform="translate(1690,126.0) scale(0.93,1)" font-size="9.8" fill="#fff">140.744</text>
<rect x="1686" y="135" width="41" height="11" fill="#ff0000"/>
<text transform="translate(1690,144.0) scale(0.93,1)" font-size="9.8" fill="#fff">140.281</text>
<rect x="1686" y="164" width="41" height="11" fill="#32cd32"/>
<text transform="translate(1690,173.0) scale(0.93,1)" font-size="9.8" fill="#fff">139.534</text>
<rect x="1686" y="179" width="41" height="11" fill="#000000"/>
<text transform="translate(1690,188.0) scale(0.93,1)" font-size="9.8" fill="#fff">139.152</text>
<rect x="1686" y="198" width="41" height="11" fill="#0000ff"/>
<text transform="translate(1690,207.0) scale(0.93,1)" font-size="9.8" fill="#fff">138.659</text>
<rect x="1686" y="220" width="41" height="11" fill="#0000ff"/>
<text transform="translate(1690,229.0) scale(0.93,1)" font-size="9.8" fill="#fff">138.093</text>
<g shape-rendering="crispEdges">
<rect x="2" y="669" width="1" height="23" fill="#c0c0c0"/>
<rect x="10" y="669" width="1" height="27" fill="#c0c0c0"/>
<rect x="18" y="669" width="1" height="30" fill="#c0c0c0"/>
<rect x="26" y="669" width="1" height="36" fill="#c0c0c0"/>
<rect x="34" y="669" width="1" height="41" fill="#c0c0c0"/>
<rect x="42" y="669" width="1" height="41" fill="#c0c0c0"/>
<rect x="50" y="669" width="1" height="33" fill="#c0c0c0"/>
<rect x="58" y="669" width="1" height="31" fill="#c0c0c0"/>
<rect x="66" y="669" width="1" height="29" fill="#c0c0c0"/>
<rect x="74" y="669" width="1" height="29" fill="#c0c0c0"/>
<rect x="82" y="669" width="1" height="26" fill="#c0c0c0"/>
<rect x="90" y="669" width="1" height="25" fill="#c0c0c0"/>
<rect x="98" y="669" width="1" height="18" fill="#c0c0c0"/>
<rect x="106" y="669" width="1" height="13" fill="#c0c0c0"/>
<rect x="114" y="669" width="1" height="10" fill="#c0c0c0"/>
<rect x="122" y="669" width="1" height="3" fill="#c0c0c0"/>
<rect x="138" y="661" width="1" height="9" fill="#c0c0c0"/>
<rect x="146" y="643" width="1" height="27" fill="#c0c0c0"/>
<rect x="154" y="629" width="1" height="41" fill="#c0c0c0"/>
<rect x="162" y="617" width="1" height="53" fill="#c0c0c0"/>
<rect x="170" y="602" width="1" height="68" fill="#c0c0c0"/>
<rect x="178" y="589" width="1" height="81" fill="#c0c0c0"/>
<rect x="186" y="585" width="1" height="85" fill="#c0c0c0"/>
<rect x="194" y="588" width="1" height="82" fill="#c0c0c0"/>
<rect x="202" y="595" width="1" height="75" fill="#c0c0c0"/>
<rect x="210" y="608" width="1" height="62" fill="#c0c0c0"/>
<rect x="218" y="619" width="1" height="51" fill="#c0c0c0"/>
<rect x="226" y="629" width="1" height="41" fill="#c0c0c0"/>
<rect x="234" y="630" width="1" height="40" fill="#c0c0c0"/>
<rect x="242" y="636" width="1" height="34" fill="#c0c0c0"/>
<rect x="250" y="642" width="1" height="28" fill="#c0c0c0"/>
<rect x="258" y="654" width="1" height="16" fill="#c0c0c0"/>
<rect x="266" y="668" width="1" height="2" fill="#c0c0c0"/>
<rect x="274" y="669" width="1" height="7" fill="#c0c0c0"/>
<rect x="282" y="669" width="1" height="9" fill="#c0c0c0"/>
<rect x="290" y="669" width="1" height="11" fill="#c0c0c0"/>
<rect x="298" y="669" width="1" height="13" fill="#c0c0c0"/>
<rect x="306" y="669" width="1" height="15" fill="#c0c0c0"/>
<rect x="314" y="669" width="1" height="20" fill="#c0c0c0"/>
<rect x="322" y="669" width="1" height="23" fill="#c0c0c0"/>
<rect x="330" y="669" width="1" height="23" fill="#c0c0c0"/>
<rect x="338" y="669" width="1" height="19" fill="#c0c0c0"/>
<rect x="346" y="669" width="1" height="16" fill="#c0c0c0"/>
<rect x="354" y="669" width="1" height="11" fill="#c0c0c0"/>
<rect x="362" y="669" width="1" height="7" fill="#c0c0c0"/>
<rect x="370" y="669" width="1" height="4" fill="#c0c0c0"/>
<rect x="386" y="668" width="1" height="2" fill="#c0c0c0"/>
<rect x="394" y="662" width="1" height="8" fill="#c0c0c0"/>
<rect x="402" y="658" width="1" height="12" fill="#c0c0c0"/>
<rect x="410" y="656" width="1" height="14" fill="#c0c0c0"/>
<rect x="418" y="654" width="1" height="16" fill="#c0c0c0"/>
<rect x="426" y="655" width="1" height="15" fill="#c0c0c0"/>
<rect x="434" y="655" width="1" height="15" fill="#c0c0c0"/>
<rect x="442" y="656" width="1" height="14" fill="#c0c0c0"/>
<rect x="450" y="657" width="1" height="13" fill="#c0c0c0"/>
<rect x="458" y="658" width="1" height="12" fill="#c0c0c0"/>
<rect x="466" y="658" width="1" height="12" fill="#c0c0c0"/>
<rect x="474" y="654" width="1" height="16" fill="#c0c0c0"/>
<rect x="482" y="650" width="1" height="20" fill="#c0c0c0"/>
<rect x="490" y="646" width="1" height="24" fill="#c0c0c0"/>
<rect x="498" y="644" width="1" height="26" fill="#c0c0c0"/>
<rect x="506" y="645" width="1" height="25" fill="#c0c0c0"/>
<rect x="514" y="646" width="1" height="24" fill="#c0c0c0"/>
<rect x="522" y="646" width="1" height="24" fill="#c0c0c0"/>
<rect x="530" y="645" width="1" height="25" fill="#c0c0c0"/>
<rect x="538" y="644" width="1" height="26" fill="#c0c0c0"/>
<rect x="546" y="639" width="1" height="31" fill="#c0c0c0"/>
<rect x="554" y="630" width="1" height="40" fill="#c0c0c0"/>
<rect x="562" y="624" width="1" height="46" fill="#c0c0c0"/>
<rect x="570" y="619" width="1" height="51" fill="#c0c0c0"/>
<rect x="578" y="617" width="1" height="53" fill="#c0c0c0"/>
<rect x="586" y="616" width="1" height="54" fill="#c0c0c0"/>
<rect x="594" y="614" width="1" height="56" fill="#c0c0c0"/>
<rect x="602" y="615" width="1" height="55" fill="#c0c0c0"/>
<rect x="610" y="617" width="1" height="53" fill="#c0c0c0"/>
<rect x="618" y="618" width="1" height="52" fill="#c0c0c0"/>
<rect x="626" y="617" width="1" height="53" fill="#c0c0c0"/>
<rect x="634" y="616" width="1" height="54" fill="#c0c0c0"/>
<rect x="642" y="613" width="1" height="57" fill="#c0c0c0"/>
<rect x="650" y="613" width="1" height="57" fill="#c0c0c0"/>
<rect x="658" y="613" width="1" height="57" fill="#c0c0c0"/>
<rect x="666" y="617" width="1" height="53" fill="#c0c0c0"/>
<rect x="674" y="618" width="1" height="52" fill="#c0c0c0"/>
<rect x="682" y="622" width="1" height="48" fill="#c0c0c0"/>
<rect x="690" y="622" width="1" height="48" fill="#c0c0c0"/>
<rect x="698" y="628" width="1" height="42" fill="#c0c0c0"/>
<rect x="706" y="632" width="1" height="38" fill="#c0c0c0"/>
<rect x="714" y="637" width="1" height="33" fill="#c0c0c0"/>
<rect x="722" y="635" width="1" height="35" fill="#c0c0c0"/>
<rect x="730" y="634" width="1" height="36" fill="#c0c0c0"/>
<rect x="738" y="630" width="1" height="40" fill="#c0c0c0"/>
<rect x="746" y="628" width="1" height="42" fill="#c0c0c0"/>
<rect x="754" y="625" width="1" height="45" fill="#c0c0c0"/>
<rect x="762" y="621" width="1" height="49" fill="#c0c0c0"/>
<rect x="770" y="617" width="1" height="53" fill="#c0c0c0"/>
<rect x="778" y="615" width="1" height="55" fill="#c0c0c0"/>
<rect x="786" y="619" width="1" height="51" fill="#c0c0c0"/>
<rect x="794" y="620" width="1" height="50" fill="#c0c0c0"/>
<rect x="802" y="622" width="1" height="48" fill="#c0c0c0"/>
<rect x="810" y="630" width="1" height="40" fill="#c0c0c0"/>
<rect x="818" y="646" width="1" height="24" fill="#c0c0c0"/>
<rect x="826" y="656" width="1" height="14" fill="#c0c0c0"/>
<rect x="834" y="669" width="1" height="3" fill="#c0c0c0"/>
<rect x="842" y="669" width="1" height="17" fill="#c0c0c0"/>
<rect x="850" y="669" width="1" height="27" fill="#c0c0c0"/>
<rect x="858" y="669" width="1" height="35" fill="#c0c0c0"/>
<rect x="866" y="669" width="1" height="41" fill="#c0c0c0"/>
<rect x="874" y="669" width="1" height="43" fill="#c0c0c0"/>
<rect x="882" y="669" width="1" height="45" fill="#c0c0c0"/>
<rect x="890" y="669" width="1" height="51" fill="#c0c0c0"/>
<rect x="898" y="669" width="1" height="53" fill="#c0c0c0"/>
<rect x="906" y="669" width="1" height="60" fill="#c0c0c0"/>
<rect x="914" y="669" width="1" height="65" fill="#c0c0c0"/>
<rect x="922" y="669" width="1" height="68" fill="#c0c0c0"/>
<rect x="930" y="669" width="1" height="67" fill="#c0c0c0"/>
<rect x="938" y="669" width="1" height="65" fill="#c0c0c0"/>
<rect x="946" y="669" width="1" height="63" fill="#c0c0c0"/>
<rect x="954" y="669" width="1" height="55" fill="#c0c0c0"/>
<rect x="962" y="669" width="1" height="49" fill="#c0c0c0"/>
<rect x="970" y="669" width="1" height="42" fill="#c0c0c0"/>
<rect x="978" y="669" width="1" height="35" fill="#c0c0c0"/>
<rect x="986" y="669" width="1" height="31" fill="#c0c0c0"/>
<rect x="994" y="669" width="1" height="24" fill="#c0c0c0"/>
<rect x="1002" y="669" width="1" height="17" fill="#c0c0c0"/>
<rect x="1010" y="669" width="1" height="14" fill="#c0c0c0"/>
<rect x="1018" y="669" width="1" height="11" fill="#c0c0c0"/>
<rect x="1026" y="669" width="1" height="5" fill="#c0c0c0"/>
<rect x="1042" y="665" width="1" height="5" fill="#c0c0c0"/>
<rect x="1050" y="662" width="1" height="8" fill="#c0c0c0"/>
<rect x="1058" y="664" width="1" height="6" fill="#c0c0c0"/>
<rect x="1066" y="664" width="1" height="6" fill="#c0c0c0"/>
<rect x="1074" y="668" width="1" height="2" fill="#c0c0c0"/>
<rect x="1090" y="668" width="1" height="2" fill="#c0c0c0"/>
<rect x="1106" y="669" width="1" height="1" fill="#c0c0c0"/>
<rect x="1114" y="666" width="1" height="4" fill="#c0c0c0"/>
<rect x="1122" y="665" width="1" height="5" fill="#c0c0c0"/>
<rect x="1130" y="666" width="1" height="4" fill="#c0c0c0"/>
<rect x="1138" y="667" width="1" height="3" fill="#c0c0c0"/>
<rect x="1146" y="668" width="1" height="2" fill="#c0c0c0"/>
<rect x="1162" y="669" width="1" height="5" fill="#c0c0c0"/>
<rect x="1170" y="669" width="1" height="10" fill="#c0c0c0"/>
<rect x="1178" y="669" width="1" height="11" fill="#c0c0c0"/>
<rect x="1186" y="669" width="1" height="15" fill="#c0c0c0"/>
<rect x="1194" y="669" width="1" height="15" fill="#c0c0c0"/>
<rect x="1202" y="669" width="1" height="10" fill="#c0c0c0"/>
<rect x="1210" y="669" width="1" height="12" fill="#c0c0c0"/>
<rect x="1218" y="669" width="1" height="11" fill="#c0c0c0"/>
<rect x="1226" y="669" width="1" height="11" fill="#c0c0c0"/>
<rect x="1234" y="669" width="1" height="9" fill="#c0c0c0"/>
<rect x="1242" y="668" width="1" height="2" fill="#c0c0c0"/>
<rect x="1250" y="655" width="1" height="15" fill="#c0c0c0"/>
<rect x="1258" y="646" width="1" height="24" fill="#c0c0c0"/>
<rect x="1266" y="645" width="1" height="25" fill="#c0c0c0"/>
<rect x="1274" y="645" width="1" height="25" fill="#c0c0c0"/>
<rect x="1282" y="643" width="1" height="27" fill="#c0c0c0"/>
<rect x="1290" y="642" width="1" height="28" fill="#c0c0c0"/>
<rect x="1298" y="642" width="1" height="28" fill="#c0c0c0"/>
<rect x="1306" y="645" width="1" height="25" fill="#c0c0c0"/>
<rect x="1314" y="647" width="1" height="23" fill="#c0c0c0"/>
<rect x="1322" y="648" width="1" height="22" fill="#c0c0c0"/>
<rect x="1330" y="648" width="1" height="22" fill="#c0c0c0"/>
<rect x="1338" y="644" width="1" height="26" fill="#c0c0c0"/>
<rect x="1346" y="639" width="1" height="31" fill="#c0c0c0"/>
<rect x="1354" y="635" width="1" height="35" fill="#c0c0c0"/>
<rect x="1362" y="635" width="1" height="35" fill="#c0c0c0"/>
<rect x="1370" y="638" width="1" height="32" fill="#c0c0c0"/>
<rect x="1378" y="640" width="1" height="30" fill="#c0c0c0"/>
<rect x="1386" y="640" width="1" height="30" fill="#c0c0c0"/>
<rect x="1394" y="638" width="1" height="32" fill="#c0c0c0"/>
<rect x="1402" y="636" width="1" height="34" fill="#c0c0c0"/>
<rect x="1410" y="635" width="1" height="35" fill="#c0c0c0"/>
<rect x="1418" y="635" width="1" height="35" fill="#c0c0c0"/>
<rect x="1426" y="635" width="1" height="35" fill="#c0c0c0"/>
<rect x="1434" y="637" width="1" height="33" fill="#c0c0c0"/>
</g>
<polyline points="0.5,688.0 13.0,692.2 25.5,694.2 38.0,699.2 50.5,701.0 65.5,702.5 88.0,702.5 100.5,700.0 113.0,694.2 125.5,689.2 138.0,681.5 150.5,673.0 163.0,660.5 175.5,645.5 188.0,629.2 200.5,614.2 210.5,605.5 220.5,603.0 233.0,603.5 245.5,610.5 258.0,620.5 270.5,634.2 283.0,646.5 295.5,658.0 308.0,668.0 320.5,676.5 333.0,683.5 343.0,686.5 360.5,686.5 375.5,684.2 388.0,680.5 400.5,674.2 413.0,669.2 420.5,666.0 428.0,663.0 435.5,660.0 445.5,657.5 458.0,656.0 475.5,655.5 493.0,653.5 508.0,651.5 520.5,650.0 530.5,647.5 545.5,645.0 558.0,641.5 570.5,638.0 583.0,632.5 595.5,627.5 605.5,622.5 618.0,619.5 625.5,617.5 638.0,616.5 645.5,615.5 658.0,614.5 670.5,616.0 685.5,616.0 695.5,617.5 705.5,618.5 715.5,622.5 723.0,625.0 735.5,627.5 745.5,628.5 755.5,630.0 765.5,629.5 775.5,628.5 785.5,625.5 795.5,622.5 805.5,621.5 813.0,621.5 823.0,626.0 833.0,631.5 840.5,638.0 848.0,648.0 858.0,659.5 868.0,670.5 878.0,681.5 890.5,695.5 903.0,708.0 915.5,716.5 928.0,723.0 940.5,728.0 950.5,730.5 963.0,730.5 975.5,728.0 988.0,721.5 1000.5,714.5 1013.0,705.5 1025.5,697.5 1038.0,688.0 1048.0,680.5 1060.5,675.0 1075.5,670.0 1090.5,668.0 1103.0,666.5 1115.5,668.0 1140.5,668.5 1165.5,669.5 1175.5,670.0 1185.5,673.0 1195.5,675.5 1208.0,678.5 1220.5,680.0 1235.5,681.5 1245.5,678.5 1255.5,674.5 1263.2,669.8 1274.1,664.4 1287.5,657.0 1301.3,650.2 1314.9,645.3 1325.5,644.5 1339.5,644.5 1353.0,643.5 1369.5,641.8 1385.5,641.2 1393.5,639.1 1402.0,637.5 1412.9,636.5 1434.5,636.5" fill="none" stroke="#ff0000" stroke-width="1" stroke-dasharray="3,3" shape-rendering="crispEdges"/>
<text transform="translate(-1,588.2) scale(0.955,1)" font-size="9.8" fill="#000">MACD(12,26,9) 0.6090 0.6290</text>
<text transform="translate(1688,586.1) scale(0.93,1)" font-size="9.8" fill="#000">1.787</text>
<text transform="translate(1688,673.1) scale(0.93,1)" font-size="9.8" fill="#000">0.00</text>
<text transform="translate(1688,741.8) scale(0.93,1)" font-size="9.8" fill="#000">-1.471</text>
<rect x="1685" y="577" width="1" height="1" fill="#000"/>
<rect x="1685" y="669" width="1" height="1" fill="#000"/>
<rect x="1685" y="744" width="1" height="1" fill="#000"/>
<line x1="0" y1="783.5" x2="1684" y2="783.5" stroke="#c0c0c0" stroke-width="1" stroke-dasharray="3,3" stroke-dashoffset="5" shape-rendering="crispEdges"/>
<line x1="0" y1="834.5" x2="1684" y2="834.5" stroke="#c0c0c0" stroke-width="1" stroke-dasharray="3,3" stroke-dashoffset="5" shape-rendering="crispEdges"/>
<line x1="0" y1="895.5" x2="1684" y2="895.5" stroke="#c0c0c0" stroke-width="1" stroke-dasharray="3,3" stroke-dashoffset="5" shape-rendering="crispEdges"/>
<polyline points="0,848.0 2.5,848.5 10.5,854.5 18.5,848.5 26.5,858.5 34.5,862.2 42.5,846.5 50.5,835.5 58.5,839.5 66.5,841.2 74.5,846.0 82.5,842.2 90.5,840.5 98.5,829.5 106.5,833.0 114.5,829.5 122.5,826.5 130.5,826.0 138.5,813.5 146.5,798.0 154.5,798.0 162.5,794.5 170.5,788.5 178.5,786.5 186.5,805.0 194.5,815.5 202.5,825.5 210.5,837.5 218.5,839.2 226.5,837.5 234.5,826.0 242.5,831.5 250.5,840.5 258.5,848.5 266.5,853.0 274.5,854.2 282.5,838.5 290.5,841.5 298.5,845.0 306.5,841.5 314.5,849.2 322.5,848.0 330.5,846.5 338.5,834.2 346.5,833.5 354.5,831.5 362.5,830.5 370.5,829.5 378.5,831.0 386.5,822.5 394.5,818.5 402.5,820.5 410.5,822.5 418.5,823.0 426.5,828.7 434.5,826.7 442.5,829.7 450.5,828.0 458.5,833.7 466.5,829.2 474.5,815.0 482.5,811.7 490.5,807.5 498.5,815.5 506.5,823.7 514.5,822.5 522.5,821.7 530.5,820.0 538.5,813.0 546.5,802.5 554.5,792.2 562.5,791.0 570.5,791.0 578.5,801.7 586.5,798.0 594.5,796.7 602.5,806.7 610.5,810.0 618.5,804.2 626.5,800.5 634.5,796.7 642.5,792.5 650.5,801.0 658.5,798.7 666.5,815.0 674.5,808.7 682.5,816.7 690.5,810.0 698.5,828.7 706.5,827.5 714.5,828.7 722.5,813.0 730.5,813.0 738.5,804.7 746.5,806.7 754.5,804.7 762.5,799.2 770.5,796.7 778.5,798.7 786.5,818.7 794.5,813.7 802.5,820.0 810.5,834.2 818.5,858.7 826.5,849.7 834.5,864.7 842.5,865.5 850.5,863.0 858.5,863.7 866.5,863.7 874.5,858.7 882.5,861.0 890.5,866.7 898.5,866.0 906.5,873.0 914.5,874.7 922.5,874.7 930.5,863.7 938.5,864.7 946.5,858.5 954.5,843.7 962.5,841.0 970.5,838.0 978.5,839.7 986.5,836.0 994.5,833.7 1002.5,821.7 1010.5,838.7 1018.5,829.2 1026.5,825.5 1034.5,821.0 1042.5,821.7 1050.5,821.7 1058.5,838.7 1066.5,833.7 1074.5,843.7 1082.5,840.0 1090.5,839.7 1098.5,836.0 1106.5,834.7 1114.5,823.7 1122.5,827.5 1130.5,838.0 1138.5,835.5 1146.5,838.7 1154.5,841.7 1162.5,851.7 1170.5,855.0 1178.5,847.2 1186.5,853.0 1194.5,849.7 1202.5,823.7 1210.5,844.7 1218.5,836.7 1226.5,840.0 1234.5,836.7 1242.5,813.7 1250.5,807.5 1258.5,809.2 1266.5,825.7 1274.5,827.0 1282.5,821.5 1290.5,824.0 1298.5,825.7 1306.5,829.5 1314.5,832.2 1322.5,828.4 1330.5,825.7 1338.5,814.8 1346.5,811.8 1354.5,810.7 1362.5,819.4 1370.5,829.7 1378.5,825.7 1386.5,821.5 1394.5,814.0 1402.5,818.9 1410.5,818.9 1418.5,815.9 1426.5,818.0 1434.5,827.0" fill="none" stroke="#1e90ff" stroke-width="1" shape-rendering="crispEdges"/>
<text transform="translate(-2,759.8) scale(0.96,1)" font-size="9.8" fill="#000">RSI(14) 54.3446</text>
<text transform="translate(1688,757.7) scale(0.93,1)" font-size="9.8" fill="#000">100</text>
<text transform="translate(1688,787.2) scale(0.93,1)" font-size="9.8" fill="#000">80</text>
<text transform="translate(1688,838.2) scale(0.93,1)" font-size="9.8" fill="#000">50</text>
<text transform="translate(1688,899.2) scale(0.93,1)" font-size="9.8" fill="#000">15</text>
<text transform="translate(1688,918.2) scale(0.93,1)" font-size="9.8" fill="#000">0</text>
<rect x="1685" y="749" width="1" height="1" fill="#000"/>
<rect x="1685" y="920" width="1" height="1" fill="#000"/>
<text transform="translate(-6.3,933.8) scale(0.97,1)" font-size="9.8" fill="#000">11 May 2020</text>
<rect x="58" y="922" width="1" height="3" fill="#000"/>
<text transform="translate(56.5,933.8) scale(0.97,1)" font-size="9.8" fill="#000">20 May 2020</text>
<rect x="122" y="922" width="1" height="3" fill="#000"/>
<text transform="translate(120.5,933.8) scale(0.97,1)" font-size="9.8" fill="#000">29 May 2020</text>
<rect x="186" y="922" width="1" height="3" fill="#000"/>
<text transform="translate(184.5,933.8) scale(0.97,1)" font-size="9.8" fill="#000">8 Jun 2020</text>
<rect x="250" y="922" width="1" height="3" fill="#000"/>
<text transform="translate(248.5,933.8) scale(0.97,1)" font-size="9.8" fill="#000">17 Jun 2020</text>
<rect x="314" y="922" width="1" height="3" fill="#000"/>
<text transform="translate(312.5,933.8) scale(0.97,1)" font-size="9.8" fill="#000">26 Jun 2020</text>
<rect x="378" y="922" width="1" height="3" fill="#000"/>
<text transform="translate(376.5,933.8) scale(0.97,1)" font-size="9.8" fill="#000">6 Jul 2020</text>
<rect x="442" y="922" width="1" height="3" fill="#000"/>
<text transform="translate(440.5,933.8) scale(0.97,1)" font-size="9.8" fill="#000">15 Jul 2020</text>
<rect x="506" y="922" width="1" height="3" fill="#000"/>
<text transform="translate(504.5,933.8) scale(0.97,1)" font-size="9.8" fill="#000">24 Jul 2020</text>
<rect x="570" y="922" width="1" height="3" fill="#000"/>
<text transform="translate(568.5,933.8) scale(0.97,1)" font-size="9.8" fill="#000">3 Aug 2020</text>
<rect x="634" y="922" width="1" height="3" fill="#000"/>
<text transform="translate(632.5,933.8) scale(0.97,1)" font-size="9.8" fill="#000">12 Aug 2020</text>
<rect x="698" y="922" width="1" height="3" fill="#000"/>
<text transform="translate(696.5,933.8) scale(0.97,1)" font-size="9.8" fill="#000">21 Aug 2020</text>
<rect x="762" y="922" width="1" height="3" fill="#000"/>
<text transform="translate(760.5,933.8) scale(0.97,1)" font-size="9.8" fill="#000">31 Aug 2020</text>
<rect x="826" y="922" width="1" height="3" fill="#000"/>
<text transform="translate(824.5,933.8) scale(0.97,1)" font-size="9.8" fill="#000">9 Sep 2020</text>
<rect x="890" y="922" width="1" height="3" fill="#000"/>
<text transform="translate(888.5,933.8) scale(0.97,1)" font-size="9.8" fill="#000">18 Sep 2020</text>
<rect x="954" y="922" width="1" height="3" fill="#000"/>
<text transform="translate(952.5,933.8) scale(0.97,1)" font-size="9.8" fill="#000">28 Sep 2020</text>
<rect x="1018" y="922" width="1" height="3" fill="#000"/>
<text transform="translate(1016.5,933.8) scale(0.97,1)" font-size="9.8" fill="#000">7 Oct 2020</text>
<rect x="1082" y="922" width="1" height="3" fill="#000"/>
<text transform="translate(1080.5,933.8) scale(0.97,1)" font-size="9.8" fill="#000">16 Oct 2020</text>
<rect x="1146" y="922" width="1" height="3" fill="#000"/>
<text transform="translate(1144.5,933.8) scale(0.97,1)" font-size="9.8" fill="#000">26 Oct 2020</text>
<rect x="1210" y="922" width="1" height="3" fill="#000"/>
<text transform="translate(1208.5,933.8) scale(0.97,1)" font-size="9.8" fill="#000">4 Nov 2020</text>
<rect x="1274" y="922" width="1" height="3" fill="#000"/>
<text transform="translate(1272.5,933.8) scale(0.97,1)" font-size="9.8" fill="#000">13 Nov 2020</text>
<rect x="1338" y="922" width="1" height="3" fill="#000"/>
<text transform="translate(1336.5,933.8) scale(0.97,1)" font-size="9.8" fill="#000">23 Nov 2020</text>
<rect x="1402" y="922" width="1" height="3" fill="#000"/>
<text transform="translate(1400.5,933.8) scale(0.97,1)" font-size="9.8" fill="#000">2 Dec 2020</text>
<rect x="1730" y="18" width="1" height="917" fill="#e3e3e3"/>
</svg>
<svg width="1731" height="20" viewBox="0 0 1731 20" style="position:absolute;left:0;top:0" font-family="'Liberation Sans', 'Noto Sans CJK SC', sans-serif">
<rect x="0" y="0" width="1731" height="15" fill="#f0f0f0"/>
<rect x="0" y="15" width="1731" height="1" fill="#f4f4f4"/>
<rect x="0" y="16" width="1731" height="1" fill="#a8a8a8"/>
<rect x="0" y="17" width="1731" height="1" fill="#696969"/>
<rect x="0" y="18" width="1731" height="2" fill="#ffffff"/>
<rect x="-3" y="-5" width="10.5" height="15" fill="#fff" stroke="#3a7fd5" stroke-width="1.2"/>
<rect x="0" y="1" width="6" height="1" fill="#bcd3f5"/><rect x="0" y="3" width="6" height="1" fill="#bcd3f5"/><rect x="0" y="5" width="6" height="1" fill="#bcd3f5"/>
<rect x="21" y="-4" width="10" height="13" fill="#fff" stroke="#b0b0b0"/>
<line x1="32" y1="8" x2="37" y2="12.5" stroke="#c8a020" stroke-width="2.6"/>
<circle cx="28" cy="3.5" r="5" fill="#d6e8f4" fill-opacity="0.9" stroke="#6a9ad8" stroke-width="1"/>
<rect x="26.5" y="1" width="2.5" height="5" fill="#9ab0c4"/>
<rect x="45" y="0" width="1" height="14" fill="#a0a0a0"/>
<rect x="55.5" y="-4" width="11" height="13" fill="#fff" stroke="#909090"/>
<rect x="57" y="3" width="6" height="1" fill="#b0b0b0"/><rect x="57" y="5" width="6" height="1" fill="#b0b0b0"/>
<path d="M63.4,2.8 h3.4 v3.7 h3.8 v3.4 h-3.8 v3.7 h-3.4 v-3.7 h-3.8 v-3.4 h3.8 z" fill="#28d428" stroke="#0e8a0e" stroke-width="0.8"/>
<text x="73.5" y="7" font-size="12" fill="#000">新订单</text>
<polygon points="122.2,5.5 129.5,-0.5 133.4,-0.5 137.8,5 137.8,7.1 130.6,11.5 122.2,6.6" fill="#b88a14"/>
<polygon points="122.2,5.3 129.5,-0.5 133.4,-0.5 137.8,4.8 130.6,9.2" fill="#ecbc34"/>
<polygon points="124,5.2 129.8,0.8 132.8,0.8 135.8,4.6 130.6,7.6" fill="#f6d45c"/>
<polygon points="123,6.6 130.6,10.4 137.4,6.2 137.4,5.6 130.6,9.6 123,6" fill="#f4e6b0"/>
<rect x="152.6" y="-3" width="9.4" height="8" fill="#3a8ee6"/>
<rect x="156.4" y="-3" width="2" height="6" fill="#d8ecff"/>
<path d="M153,11 C149.4,11 149.8,7 152.6,6.8 C153,4.2 157,3.6 158.6,5.6 C160.5,4 163.6,5.2 163.2,7.2 C166.6,7 166.8,11 163.6,11 Z" fill="#eef3fb" stroke="#6b8fd0" stroke-width="1"/>
<circle cx="186" cy="4" r="7.5" fill="none" stroke="#7fa8e8" stroke-width="1"/>
<circle cx="186" cy="4" r="5" fill="none" stroke="#5a8ae0" stroke-width="1"/>
<path d="M186,4 L186,11.8 A7.8,7.8 0 0 0 190,-2.7 Z" fill="#4cae58" fill-opacity="0.6"/>
<rect x="185.4" y="4" width="1.4" height="8" fill="#2f9a3c"/>
<circle cx="186" cy="4" r="1.8" fill="#2b5fd0"/>
<ellipse cx="212" cy="0" rx="7" ry="3" fill="#58a8e8" stroke="#2a70c0" stroke-width="0.8"/>
<polygon points="205,2 219,2 214,11 211,11" fill="#f3cf3a" stroke="#c09a10" stroke-width="0.8"/>
<circle cx="217.6" cy="7.6" r="4" fill="#dd2a1a"/>
<rect x="216.2" y="6.2" width="2.8" height="2.8" fill="#fff"/>
<text x="227" y="7" font-size="12" fill="#000">自动交易</text>
<rect x="281" y="0" width="1" height="16" fill="#a0a0a0"/>
<rect x="285" y="0" width="3" height="1" fill="#a8a8a8"/>
<rect x="285" y="2" width="3" height="1" fill="#a8a8a8"/>
<rect x="285" y="4" width="3" height="1" fill="#a8a8a8"/>
<rect x="285" y="6" width="3" height="1" fill="#a8a8a8"/>
<rect x="285" y="8" width="3" height="1" fill="#a8a8a8"/>
<rect x="285" y="10" width="3" height="1" fill="#a8a8a8"/>
<rect x="285" y="12" width="3" height="1" fill="#a8a8a8"/>
<rect x="299" y="0" width="1" height="11" fill="#404040"/>
<rect x="297" y="9" width="12" height="1" fill="#404040"/>
<polygon points="309,7.5 312,9.5 309,11.5" fill="#404040"/>
<path d="M302.5,7.5 h2.5 v-7.5 h2.5" fill="none" stroke="#18a018" stroke-width="1.4"/>
<rect x="319" y="0" width="1" height="14" fill="#a0a0a0"/>
<rect x="320" y="0" width="24" height="14" fill="#fafafa"/>
<rect x="327" y="0" width="1" height="11" fill="#404040"/>
<rect x="325" y="9" width="12" height="1" fill="#404040"/>
<polygon points="337,7.5 340,9.5 337,11.5" fill="#404040"/>
<rect x="331" y="-1" width="5" height="7" fill="#20c020" stroke="#108010" stroke-width="0.6"/>
<rect x="333" y="6" width="1" height="2.5" fill="#108010"/>
<rect x="355" y="0" width="1" height="11" fill="#404040"/>
<rect x="353" y="9" width="12" height="1" fill="#404040"/>
<polygon points="365,7.5 368,9.5 365,11.5" fill="#404040"/>
<path d="M354,7 Q360,-3 366,5" fill="none" stroke="#18a018" stroke-width="1.2"/>
<rect x="376" y="0" width="1" height="14" fill="#a0a0a0"/>
<line x1="394.5" y1="4.8" x2="399.6" y2="10.2" stroke="#c89a20" stroke-width="3.2"/>
<line x1="395.2" y1="5" x2="399.6" y2="9.6" stroke="#ecd060" stroke-width="1.2"/>
<circle cx="391" cy="1.4" r="5.4" fill="#d4e6f8" stroke="#4a86d8" stroke-width="1.3"/>
<rect x="388.5" y="0.5" width="5" height="1.4" fill="#2a66c8"/>
<rect x="390.3" y="-2" width="1.4" height="5" fill="#2a66c8"/>
<line x1="422.0" y1="4.8" x2="427.1" y2="10.2" stroke="#c89a20" stroke-width="3.2"/>
<line x1="422.7" y1="5" x2="427.1" y2="9.6" stroke="#ecd060" stroke-width="1.2"/>
<circle cx="418.5" cy="1.4" r="5.4" fill="#d4e6f8" stroke="#4a86d8" stroke-width="1.3"/>
<rect x="416.0" y="0.5" width="5" height="1.4" fill="#2a66c8"/>
<rect x="441.5" y="-2" width="7" height="6" fill="#3cb43c"/><rect x="450" y="-2" width="7" height="6" fill="#3a78e0"/>
<rect x="441.5" y="5.5" width="7" height="6" fill="#3a78e0"/><rect x="450" y="5.5" width="7" height="6" fill="#3cb43c"/>
<rect x="443" y="7.5" width="4" height="1.5" fill="#fff"/><rect x="451.5" y="7.5" width="4" height="1.5" fill="#fff"/><rect x="451.5" y="0" width="4" height="1.5" fill="#fff"/><rect x="443" y="0" width="4" height="1.5" fill="#fff"/>
<rect x="466" y="0" width="1" height="14" fill="#a0a0a0"/>
<rect x="471" y="0" width="1" height="14" fill="#a0a0a0"/>
<rect x="472" y="0" width="27" height="14" fill="#f8f8f8"/>
<rect x="479" y="0" width="1" height="11" fill="#404040"/>
<rect x="477" y="9" width="12" height="1" fill="#404040"/>
<polygon points="489,7.5 492,9.5 489,11.5" fill="#404040"/>
<polygon points="483.8,0.3 483.8,6.8 488.3,3.5" fill="#c8f0c8" stroke="#18a818" stroke-width="1"/>
<rect x="499" y="0" width="1" height="14" fill="#a0a0a0"/>
<rect x="500" y="0" width="27" height="14" fill="#f8f8f8"/>
<rect x="507" y="0" width="1" height="11" fill="#404040"/>
<rect x="505" y="9" width="12" height="1" fill="#404040"/>
<polygon points="517,7.5 520,9.5 517,11.5" fill="#404040"/>
<rect x="513" y="0" width="1" height="8" fill="#2060c0"/>
<path d="M520,3.5 h-5 m2.2,-2.2 l-2.6,2.2 l2.6,2.2" fill="none" stroke="#d84010" stroke-width="1.1"/>
<rect x="528" y="0" width="1" height="14" fill="#a0a0a0"/>
<rect x="539.5" y="-3" width="8" height="10" fill="#fff" stroke="#909090"/>
<path d="M546.1,2.3 h3.4 v3.7 h3.8 v3.4 h-3.8 v3.7 h-3.4 v-3.7 h-3.8 v-3.4 h3.8 z" fill="#28d428" stroke="#0e8a0e" stroke-width="0.8"/>
<polygon points="559.5,3 565.5,3 562.5,6.5" fill="#000"/>
<circle cx="584" cy="3.8" r="6.8" fill="#f4f6fa" stroke="#2a5fd0" stroke-width="2.2"/>
<path d="M584,0 v4 h3" fill="none" stroke="#707070" stroke-width="1"/>
<polygon points="598.6,3 604.6,3 601.6,6.5" fill="#000"/>
<rect x="615" y="-3" width="15.5" height="13" fill="#fff" stroke="#3a78d8" stroke-width="1.2"/>
<path d="M617,3 l3,-1 l3,1 l3,-2 l3,-1" fill="none" stroke="#c03020" stroke-width="1"/>
<path d="M617,7.5 l3,-1.5 l3,1.5 l3,-2 l3,1" fill="none" stroke="#20a030" stroke-width="1"/>
<polygon points="637,3 643,3 640,6.5" fill="#000"/>
<rect x="648" y="0" width="1" height="16" fill="#a0a0a0"/>
<rect x="652" y="0" width="3" height="1" fill="#a8a8a8"/>
<rect x="652" y="2" width="3" height="1" fill="#a8a8a8"/>
<rect x="652" y="4" width="3" height="1" fill="#a8a8a8"/>
<rect x="652" y="6" width="3" height="1" fill="#a8a8a8"/>
<rect x="652" y="8" width="3" height="1" fill="#a8a8a8"/>
<rect x="652" y="10" width="3" height="1" fill="#a8a8a8"/>
<rect x="652" y="12" width="3" height="1" fill="#a8a8a8"/>
<rect x="659" y="0" width="1" height="14" fill="#a0a0a0"/>
<rect x="660" y="0" width="25" height="14" fill="#f8f8f8"/>
<path d="M667.5,-2 v11 l2.6,-2.6 l2,4.2 l1.8,-0.9 l-2,-4 h3.6 z" fill="#101010"/>
<rect x="699" y="-2" width="1" height="13" fill="#404040"/><rect x="692.5" y="4" width="14" height="1" fill="#404040"/>
<rect x="716" y="0" width="1" height="14" fill="#a0a0a0"/>
<rect x="733" y="0" width="1" height="11" fill="#404040"/>
<rect x="756.5" y="4" width="12" height="1" fill="#404040"/>
<line x1="783.5" y1="10.5" x2="795" y2="-0.5" stroke="#404040" stroke-width="1"/>
<g stroke="#404040" stroke-width="1"><line x1="810" y1="8" x2="822" y2="0"/><line x1="812" y1="11" x2="824" y2="3"/><line x1="814" y1="9" x2="818" y2="0"/><line x1="817" y1="9" x2="821" y2="0"/><line x1="811" y1="9" x2="815" y2="1"/></g>
<text x="821.5" y="12.5" font-size="6.5" font-weight="bold" fill="#303030">E</text>
<rect x="839" y="0" width="1" height="1" fill="#404040"/>
<rect x="841" y="0" width="1" height="1" fill="#404040"/>
<rect x="843" y="0" width="1" height="1" fill="#404040"/>
<rect x="845" y="0" width="1" height="1" fill="#404040"/>
<rect x="847" y="0" width="1" height="1" fill="#404040"/>
<rect x="849" y="0" width="1" height="1" fill="#404040"/>
<rect x="851" y="0" width="1" height="1" fill="#404040"/>
<rect x="839" y="4" width="1" height="1" fill="#404040"/>
<rect x="841" y="4" width="1" height="1" fill="#404040"/>
<rect x="843" y="4" width="1" height="1" fill="#404040"/>
<rect x="845" y="4" width="1" height="1" fill="#404040"/>
<rect x="847" y="4" width="1" height="1" fill="#404040"/>
<rect x="849" y="4" width="1" height="1" fill="#404040"/>
<rect x="851" y="4" width="1" height="1" fill="#404040"/>
<rect x="839" y="8" width="1" height="1" fill="#404040"/>
<rect x="841" y="8" width="1" height="1" fill="#404040"/>
<rect x="843" y="8" width="1" height="1" fill="#404040"/>
<rect x="845" y="8" width="1" height="1" fill="#404040"/>
<rect x="847" y="8" width="1" height="1" fill="#404040"/>
<text x="849" y="12.5" font-size="6.5" font-weight="bold" fill="#303030">F</text>
<text x="869" y="9.3" font-size="13" fill="#505050">A</text>
<rect x="896.5" y="-2.5" width="11" height="13" fill="none" stroke="#505050" stroke-dasharray="1,1" shape-rendering="crispEdges"/>
<text x="902.2" y="8.6" font-size="10.5" fill="#505050" text-anchor="middle">T</text>
<polygon points="924,1 926.6,-1.5 929.2,1 926.6,3.2" fill="#404040"/>
<polygon points="930.4,8.4 933.7,5.8 937,8.4 933.7,11" fill="#404040"/>
<path d="M925.4,4.6 l2.4,2.6 l3.8,-4" stroke="#404040" stroke-width="1.3" fill="none"/>
<polygon points="943.7,3 949.7,3 946.7,6.5" fill="#000"/>
<rect x="955" y="0" width="1" height="16" fill="#a0a0a0"/>
<rect x="958" y="0" width="3" height="1" fill="#a8a8a8"/>
<rect x="958" y="2" width="3" height="1" fill="#a8a8a8"/>
<rect x="958" y="4" width="3" height="1" fill="#a8a8a8"/>
<rect x="958" y="6" width="3" height="1" fill="#a8a8a8"/>
<rect x="958" y="8" width="3" height="1" fill="#a8a8a8"/>
<rect x="958" y="10" width="3" height="1" fill="#a8a8a8"/>
<rect x="958" y="12" width="3" height="1" fill="#a8a8a8"/>
<text x="976.6" y="7.9" font-size="9.3" fill="#404040" text-anchor="middle">M1</text>
<text x="1004.6" y="7.9" font-size="9.3" fill="#404040" text-anchor="middle">M5</text>
<text x="1033" y="7.9" font-size="9.3" fill="#404040" text-anchor="middle">M15</text>
<text x="1061.3" y="7.9" font-size="9.3" fill="#404040" text-anchor="middle">M30</text>
<text x="1089.4" y="7.9" font-size="9.3" fill="#404040" text-anchor="middle">H1</text>
<text x="1116.7" y="7.9" font-size="9.3" fill="#404040" text-anchor="middle">H4</text>
<text x="1174.5" y="7.9" font-size="9.3" fill="#404040" text-anchor="middle">W1</text>
<text x="1201.1" y="7.9" font-size="9.3" fill="#404040" text-anchor="middle">MN</text>
<rect x="1133" y="0" width="1" height="14" fill="#a0a0a0"/>
<rect x="1134" y="0" width="24" height="14" fill="#fafafa"/>
<text x="1145.6" y="7.9" font-size="9.3" fill="#404040" text-anchor="middle">D1</text>
<rect x="1216" y="0" width="1" height="16" fill="#a0a0a0"/>
<line x1="1683.5" y1="5" x2="1679" y2="9" stroke="#2f5fd8" stroke-width="2.2"/>
<circle cx="1687" cy="1.5" r="4.3" fill="#f4f8ff" stroke="#2f5fd8" stroke-width="1.4"/>
<ellipse cx="1708" cy="6.5" rx="5.5" ry="4.2" fill="#e9e9ee" stroke="#c4c4cc" stroke-width="0.8"/>
<polygon points="1705,10 1706,13 1709,10" fill="#d0d0d6"/>
<circle cx="1717.5" cy="2.5" r="7.8" fill="#e0301e"/>
<text x="1717.5" y="6" font-size="11" font-weight="bold" fill="#fff" text-anchor="middle" font-family="'Liberation Serif', serif">1</text>
</svg>

<div id="panel">
 <div class="btn" style="left:0;width:49px;border-top:1px solid #2a2ad0;border-right:1px solid #1818c0;"><span class="sx" style="left:9.6px;top:-1px;transform:scaleX(0.83)">SELL</span></div>
 <div style="left:1px;top:24px;width:44px;height:1px;background:#7c7cf4"></div>
 <div class="btn" style="left:164px;width:52px;border-top:1px solid #2a2ad0;border-left:1px solid #1818c0;"><span class="sx" style="left:13px;top:-1px;transform:scaleX(0.87)">BUY</span></div>
 <div style="left:168px;top:24px;width:44px;height:1px;background:#7c7cf4"></div>
 <div style="left:49px;top:0;width:115px;height:25px;background:#fff;"></div>
 <div style="left:51px;top:0.5px;width:111.5px;height:21.5px;background:#fff;border:1px solid #aaa;"></div>
 <div style="left:52px;top:1.5px;width:20px;height:19.5px;background:linear-gradient(#f0f0f0 0%,#e4e4e4 48%,#d2d2d2 52%,#cccccc 100%);border-right:1px solid #aaa;"></div>
 <div style="left:58px;top:9px;width:0;height:0;border-left:3.5px solid transparent;border-right:3.5px solid transparent;border-top:4px solid #4a64c8;"></div>
 <div style="left:73px;top:1.5px;width:67.5px;height:19.5px;background:#fff;color:#000;font-size:12px;line-height:19px;text-align:right;padding-right:4px;">1.00</div>
 <div style="left:140.5px;top:1.5px;width:21px;height:19.5px;background:linear-gradient(#f0f0f0 0%,#e4e4e4 48%,#d2d2d2 52%,#cccccc 100%);border-left:1px solid #aaa;"></div>
 <div style="left:147.5px;top:8px;width:0;height:0;border-left:3.5px solid transparent;border-right:3.5px solid transparent;border-bottom:4px solid #4a64c8;"></div>
 <div class="big" style="left:0;width:106px;border-right:1px solid #0000a0;border-bottom:1px solid #0000a0;"></div>
 <div class="big" style="left:108px;width:108px;border-left:1px solid #0000a0;border-bottom:1px solid #0000a0;"></div>
 <div style="left:106px;top:25px;width:2px;height:39px;background:#fff"></div>
 <div class="sm sx" style="left:20.4px;">139</div>
 <div class="lg sx" style="left:44.6px;">15</div>
 <div class="sup" style="left:84.5px;top:28.6px;">2</div>
 <div class="sm sx" style="left:130.8px;">139</div>
 <div class="lg sx" style="left:155.8px;">33</div>
 <div class="sup" style="left:195.5px;top:28.6px;">1</div>
</div>

</body></html>
